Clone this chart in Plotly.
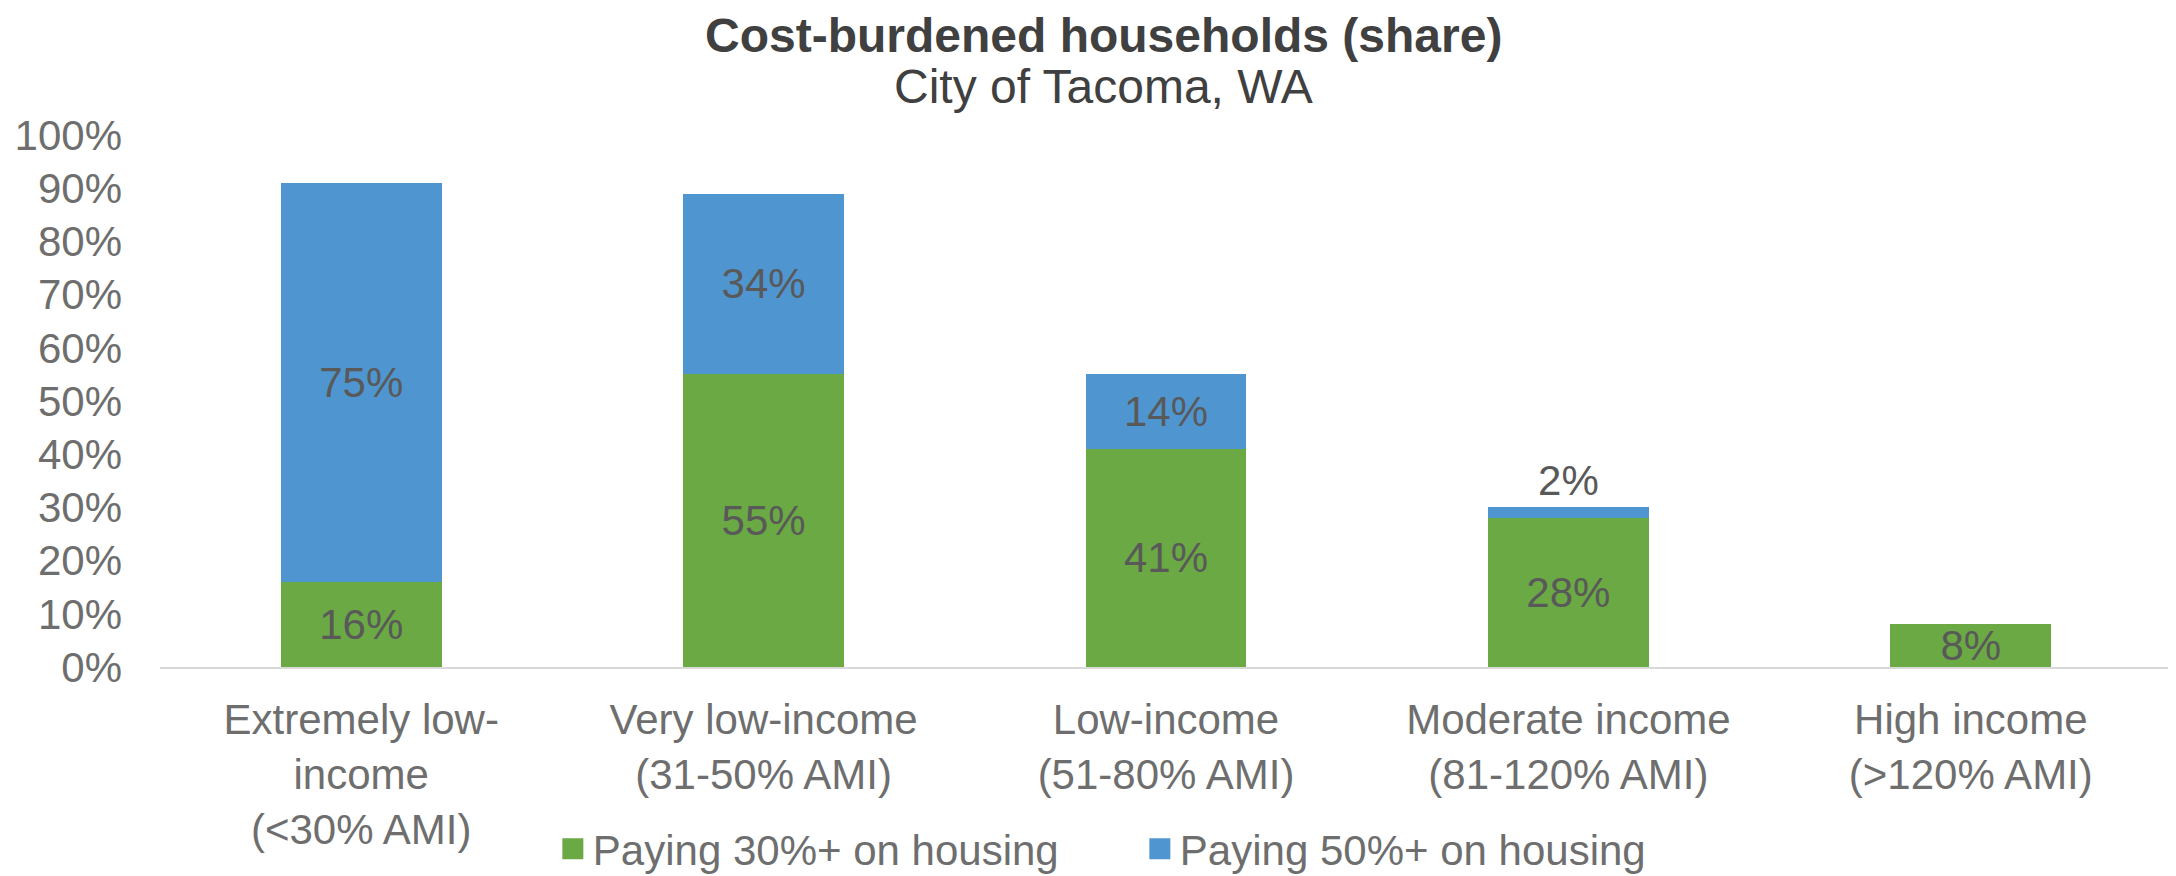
import plotly.graph_objects as go

categories = [
    "Extremely low-<br>income<br>(<30% AMI)",
    "Very low-income<br>(31-50% AMI)",
    "Low-income<br>(51-80% AMI)",
    "Moderate income<br>(81-120% AMI)",
    "High income<br>(>120% AMI)",
]
pay30 = [16, 55, 41, 28, 8]
pay50 = [75, 34, 14, 2, 0]
pay30_labels = ["16%", "55%", "41%", "28%", "8%"]
pay50_labels = ["75%", "34%", "14%", "2%", ""]
series_names = ["Paying 30%+ on housing", "Paying 50%+ on housing"]
y_ticks = [0, 10, 20, 30, 40, 50, 60, 70, 80, 90, 100]
title_text = "Cost-burdened households (share)"
subtitle_text = "City of Tacoma, WA"

GREEN = "#6AA944"
BLUE = "#4F96D1"
FONT = "Liberation Sans, Arial, sans-serif"
LABEL = "#595959"
TICK = "#6E6E6E"
TITLE = "#404040"

fig = go.Figure()
fig.add_trace(go.Bar(
    x=categories, y=pay30, name=series_names[0], marker=dict(color=GREEN, line=dict(width=0)),
    text=pay30_labels, texttemplate="%{text}", textposition="inside", insidetextanchor="middle",
    textangle=0, constraintext="none",
    insidetextfont=dict(family=FONT, size=42, color=LABEL), showlegend=False,
))
fig.add_trace(go.Bar(
    x=categories, y=pay50, name=series_names[1], marker=dict(color=BLUE, line=dict(width=0)),
    text=pay50_labels, texttemplate="%{text}",
    textposition=["inside", "inside", "inside", "outside", "none"], insidetextanchor="middle",
    textangle=0, constraintext="none", cliponaxis=False,
    insidetextfont=dict(family=FONT, size=42, color=LABEL),
    outsidetextfont=dict(family=FONT, size=42, color=LABEL), showlegend=False,
))
# legend entries
for nm, col in zip(series_names, [GREEN, BLUE]):
    fig.add_trace(go.Scatter(
        x=[None], y=[None], mode="markers", name=nm,
        marker=dict(symbol="square", size=16, color=col, line=dict(color=col, width=5)),
    ))

fig.update_layout(
    width=2168, height=868,
    barmode="stack", bargap=0.6,
    plot_bgcolor="white", paper_bgcolor="white",
    margin=dict(l=152, r=4, t=127, b=209, autoexpand=False),
    font=dict(family=FONT, size=42, color=TICK),
    legend=dict(
        orientation="h", x=0.487, xanchor="center", y=-0.342, yanchor="middle",
        font=dict(family=FONT, size=42, color=TICK), traceorder="normal",
        entrywidth=542, entrywidthmode="pixels", itemsizing="trace",
        bgcolor="rgba(0,0,0,0)",
    ),
    annotations=[
        dict(text=f"<b>{title_text}</b>", xref="paper", yref="paper", x=0.469, y=1.187,
             xanchor="center", yanchor="middle", showarrow=False,
             font=dict(family=FONT, size=48, color=TITLE)),
        dict(text=subtitle_text, xref="paper", yref="paper", x=0.469, y=1.091,
             xanchor="center", yanchor="middle", showarrow=False,
             font=dict(family=FONT, size=48, color=TITLE)),
    ],
)
fig.update_xaxes(
    showline=True, linecolor="#D9D9D9", linewidth=2, showgrid=False, ticks="",
    tickfont=dict(family=FONT, size=42, color=TICK), automargin=False, ticklabelstandoff=15,
)
fig.update_yaxes(
    range=[0, 100], tickvals=y_ticks, ticktext=[f"{v}%" for v in y_ticks],
    showgrid=False, zeroline=False, showline=False, ticks="", automargin=False,
    tickfont=dict(family=FONT, size=42, color=TICK), ticklabelstandoff=37,
)

fig.write_html("out.html")
